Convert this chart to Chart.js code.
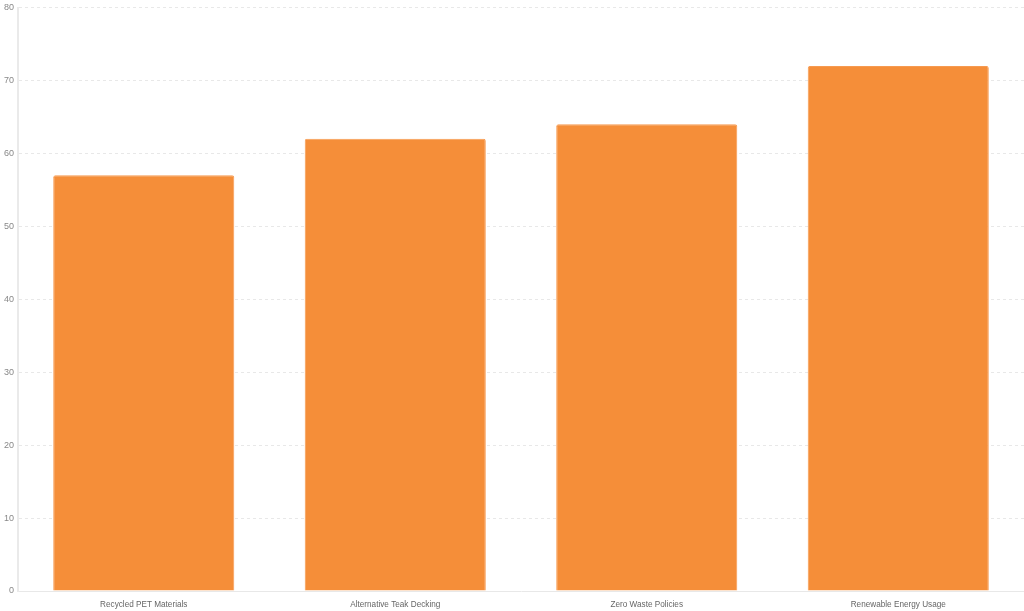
<!DOCTYPE html>
<html><head><meta charset="utf-8">
<script src="https://cdn.jsdelivr.net/npm/chart.js@4/dist/chart.umd.min.js"></script>
<style>html,body{margin:0;padding:0;background:#fff;}#wrap{width:1024px;height:611px;}</style>
</head><body><div id="wrap"><canvas id="c"></canvas></div>
<script>
const categories = ["Recycled PET Materials","Alternative Teak Decking","Zero Waste Policies","Renewable Energy Usage"];
const values = [57,62,64,72];
const yTicks = {min:0,max:80,step:10};
new Chart(document.getElementById('c'),{
  type:'bar',
  data:{labels:categories,datasets:[{data:values,backgroundColor:'#F58E39',borderColor:'#F79A50',borderWidth:1,borderRadius:2,borderSkipped:'bottom'}]},
  options:{responsive:true,maintainAspectRatio:false,animation:false,
    layout:{padding:{top:0,right:0,left:0,bottom:1}},
    plugins:{legend:{display:false},tooltip:{enabled:false}},
    scales:{
      x:{afterFit:(s)=>{s.height=19;},grid:{display:false,drawTicks:false},border:{color:'#e8e8e8',width:1},ticks:{color:'#666',padding:9,font:{family:'Liberation Sans',size:8.2}}},
      y:{min:yTicks.min,max:yTicks.max,ticks:{stepSize:yTicks.step,color:'#888',padding:4,font:{family:'Liberation Sans',size:9,lineHeight:0.8}},
         grid:{color:'#e8e8e8',drawTicks:false},border:{color:'#eaeaea',width:2,dash:[3,3],display:true}}
    }}
});
</script></body></html>
